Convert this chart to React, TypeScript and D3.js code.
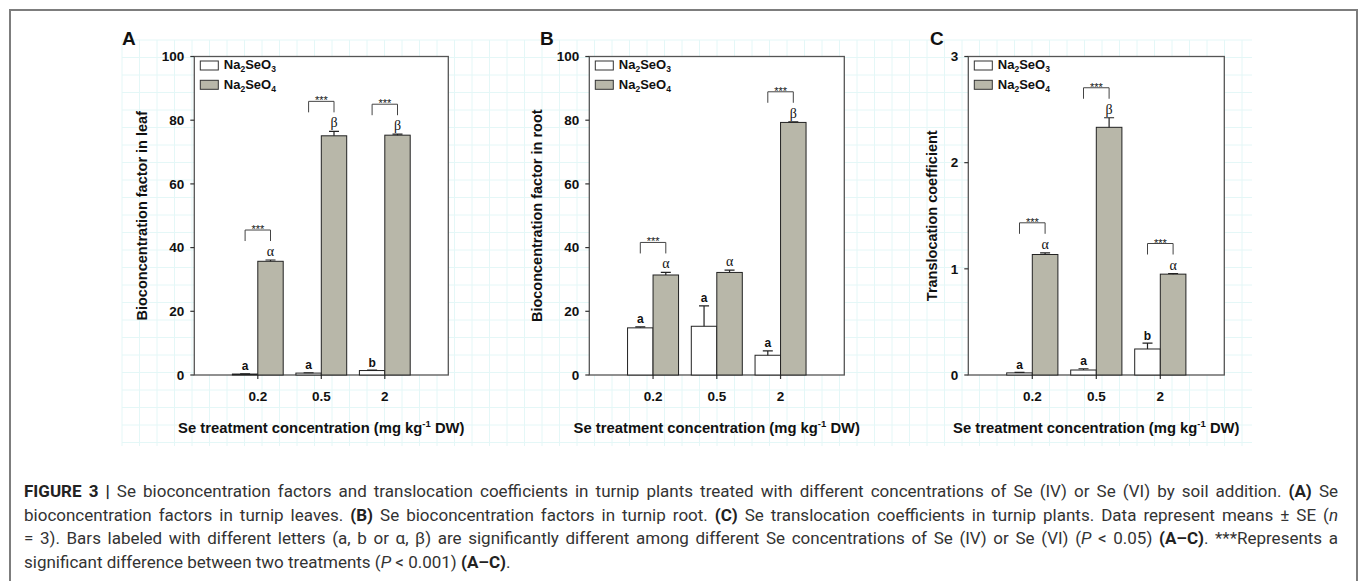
import * as d3 from 'd3';
import { useEffect, useRef } from 'react';

// x categories (Se treatment, mg/kg)
const categories = ['0.2', '0.5', '2'];

// A: bioconcentration factor in leaf
const leafSelenite = [0.3, 0.6, 1.4];
const leafSeleniteErr = [0.1, 0.1, 0.1];
const leafSelenate = [35.7, 75.1, 75.3];
const leafSelenateErr = [0.4, 1.4, 0.3];
const leafLettersIV = ['a', 'a', 'b'];
const leafLettersVI = ['α', 'β', 'β'];
const leafSig = [true, true, true];

// B: bioconcentration factor in root
const rootSelenite = [14.8, 15.3, 6.2];
const rootSeleniteErr = [0.3, 6.4, 1.4];
const rootSelenate = [31.4, 32.2, 79.3];
const rootSelenateErr = [0.8, 0.7, 0.2];
const rootLettersIV = ['a', 'a', 'a'];
const rootLettersVI = ['α', 'α', 'β'];
const rootSig = [true, false, true];

// C: translocation coefficient
const tcSelenite = [0.02, 0.047, 0.245];
const tcSeleniteErr = [0.005, 0.012, 0.055];
const tcSelenate = [1.135, 2.333, 0.95];
const tcSelenateErr = [0.016, 0.09, 0.006];
const tcLettersIV = ['a', 'a', 'b'];
const tcLettersVI = ['α', 'β', 'α'];
const tcSig = [true, true, true];

const bcfTicks = [0, 20, 40, 60, 80, 100];
const tcTicks = [0, 1, 2, 3];

const W = 1359;
const H = 581;
const TOP = 56.5;
const BOTTOM = 375;
const FONT = 'Arial, "Liberation Sans", sans-serif';
const GRAY = '#b8b7a9';

const panels = [
    { id: 'A', yLabel: 'Bioconcentration factor in leaf', ticks: bcfTicks, iv: leafSelenite, ivErr: leafSeleniteErr, vi: leafSelenate, viErr: leafSelenateErr, lIV: leafLettersIV, lVI: leafLettersVI, sig: leafSig, left: 194.3, right: 448.3, letterX: 122, titleX: 141.5 },
    { id: 'B', yLabel: 'Bioconcentration factor in root', ticks: bcfTicks, iv: rootSelenite, ivErr: rootSeleniteErr, vi: rootSelenate, viErr: rootSelenateErr, lIV: rootLettersIV, lVI: rootLettersVI, sig: rootSig, left: 589.3, right: 844.3, letterX: 540, titleX: 536.5 },
    { id: 'C', yLabel: 'Translocation coefficient', ticks: tcTicks, iv: tcSelenite, ivErr: tcSeleniteErr, vi: tcSelenate, viErr: tcSelenateErr, lIV: tcLettersIV, lVI: tcLettersVI, sig: tcSig, left: 968.3, right: 1224.3, letterX: 930, titleX: 932 },
];

// caption pieces: [text, style]
const captionLines: [string, string][][] = [
    [['FIGURE 3 | ', 'b'], ['Se bioconcentration factors and translocation coefficients in turnip plants treated with different concentrations of Se (IV) or Se (VI) by soil addition. ', ''], ['(A)', 'b'], [' Se', '']],
    [['bioconcentration factors in turnip leaves. ', ''], ['(B)', 'b'], [' Se bioconcentration factors in turnip root. ', ''], ['(C)', 'b'], [' Se translocation coefficients in turnip plants. Data represent means ± SE (', ''], ['n', 'i']],
    [['= 3). Bars labeled with different letters (a, b or α, β) are significantly different among different Se concentrations of Se (IV) or Se (VI) (', ''], ['P', 'i'], [' < 0.05) ', ''], ['(A–C)', 'b'], ['. ***Represents a', '']],
    [['significant difference between two treatments (', ''], ['P', 'i'], [' < 0.001) ', ''], ['(A–C)', 'b'], ['.', '']],
];

const App = () => {
    const svgRef = useRef<SVGSVGElement>(null);
    useEffect(() => {
        const svg = d3.select(svgRef.current);
        svg.selectAll('*').remove();

        // figure frame
        svg.append('path')
            .attr('d', `M10,${H} V10 H1357 V${H}`)
            .attr('fill', 'none')
            .attr('stroke', '#7d7d7d')
            .attr('stroke-width', 2);

        // faint scan grid behind the panels
        const grid = svg.append('g').attr('stroke', '#e4f7f7').attr('stroke-width', 1);
        for (let gx = 122; gx <= 1252; gx += 17.5) {
            grid.append('line').attr('x1', gx).attr('x2', gx).attr('y1', 40).attr('y2', 446);
        }
        for (let gy = 40; gy <= 446; gy += 17.5) {
            grid.append('line').attr('x1', 122).attr('x2', 1252).attr('y1', gy).attr('y2', gy);
        }

        panels.forEach(p => {
            const g = svg.append('g').attr('font-family', FONT).attr('fill', '#111');
            const x = d3.scalePoint<string>().domain(categories).range([p.left, p.right]).padding(1);
            const y = d3.scaleLinear().domain([0, p.ticks[p.ticks.length - 1]]).range([BOTTOM, TOP]);
            const bw = x.step() * 0.4;

            g.append('rect')
                .attr('x', p.left).attr('y', TOP)
                .attr('width', p.right - p.left).attr('height', BOTTOM - TOP)
                .attr('fill', 'white').attr('stroke', '#555').attr('stroke-width', 1.3);

            // y axis
            p.ticks.forEach(t => {
                g.append('line').attr('x1', p.left - 4).attr('x2', p.left)
                    .attr('y1', y(t)).attr('y2', y(t)).attr('stroke', '#333').attr('stroke-width', 1.2);
                g.append('text').attr('x', p.left - 10).attr('y', y(t) + 4.8)
                    .attr('text-anchor', 'end').attr('font-size', 13.5).attr('font-weight', 'bold')
                    .text(t);
            });
            g.append('text')
                .attr('transform', `translate(${p.titleX},${(TOP + BOTTOM) / 2}) rotate(-90)`)
                .attr('text-anchor', 'middle').attr('dy', '0.36em')
                .attr('font-size', 14.5).attr('font-weight', 'bold')
                .text(p.yLabel);
            g.append('text').attr('x', p.letterX).attr('y', 45)
                .attr('font-size', 19).attr('font-weight', 'bold').text(p.id);

            // x axis
            categories.forEach(c => {
                g.append('line').attr('x1', x(c)).attr('x2', x(c))
                    .attr('y1', BOTTOM).attr('y2', BOTTOM + 4).attr('stroke', '#333').attr('stroke-width', 1.2);
                g.append('text').attr('x', x(c)).attr('y', 401)
                    .attr('text-anchor', 'middle').attr('font-size', 13.5).attr('font-weight', 'bold').text(c);
            });
            const xt = g.append('text').attr('x', (p.left + p.right) / 2).attr('y', 432.5)
                .attr('text-anchor', 'middle').attr('font-size', 14.8).attr('font-weight', 'bold');
            xt.append('tspan').text('Se treatment concentration (mg kg');
            xt.append('tspan').attr('font-size', 9.5).attr('dy', -6).text('-1');
            xt.append('tspan').attr('dy', 6).text(' DW)');

            // bars, error bars, letters
            const series = [
                { vals: p.iv, errs: p.ivErr, letters: p.lIV, fill: 'white', off: -bw },
                { vals: p.vi, errs: p.viErr, letters: p.lVI, fill: GRAY, off: 0 },
            ];
            series.forEach(s => {
                categories.forEach((c, i) => {
                    const x0 = (x(c) as number) + s.off;
                    const cx = x0 + bw / 2;
                    const top = y(s.vals[i] + s.errs[i]);
                    g.append('rect').attr('x', x0).attr('y', y(s.vals[i]))
                        .attr('width', bw).attr('height', BOTTOM - y(s.vals[i]))
                        .attr('fill', s.fill).attr('stroke', '#222').attr('stroke-width', 1);
                    g.append('path')
                        .attr('d', `M${cx},${y(s.vals[i])} V${top} M${cx - 5},${top} H${cx + 5}`)
                        .attr('stroke', '#222').attr('stroke-width', 1.2);
                    const greek = s.off === 0;
                    g.append('text').attr('x', cx).attr('y', top - (greek ? 4 : 3.5))
                        .attr('text-anchor', 'middle')
                        .attr('font-size', greek ? 14 : 12)
                        .attr('font-weight', greek ? 'normal' : 'bold')
                        .attr('font-family', greek ? '"Liberation Serif", "DejaVu Serif", serif' : FONT)
                        .text(s.letters[i]);
                });
            });

            // significance brackets
            categories.forEach((c, i) => {
                if (!p.sig[i]) return;
                const x1 = (x(c) as number) - bw / 2;
                const x2 = (x(c) as number) + bw / 2;
                const yb = y(p.vi[i] + p.viErr[i]) - 19;
                const yt = yb - 11;
                g.append('path').attr('d', `M${x1},${yb} V${yt} H${x2} V${yb}`)
                    .attr('fill', 'none').attr('stroke', '#444').attr('stroke-width', 1);
                g.append('text').attr('x', (x1 + x2) / 2).attr('y', yt + 3)
                    .attr('text-anchor', 'middle').attr('font-size', 11).text('***');
            });

            // legend
            ['3', '4'].forEach((n, k) => {
                const ly = 61 + k * 19.3;
                g.append('rect').attr('x', p.left + 6).attr('y', ly)
                    .attr('width', 18).attr('height', 9)
                    .attr('fill', k === 0 ? 'white' : GRAY).attr('stroke', '#333').attr('stroke-width', 1);
                const lt = g.append('text').attr('x', p.left + 29.5).attr('y', ly + 8.3)
                    .attr('font-size', 13).attr('font-weight', 'bold');
                lt.append('tspan').text('Na');
                lt.append('tspan').attr('font-size', 8.5).attr('dy', 3).text('2');
                lt.append('tspan').attr('dy', -3).text('SeO');
                lt.append('tspan').attr('font-size', 8.5).attr('dy', 3).text(n);
            });
        });

        // caption: size the font so the first line nearly fills the column, then justify
        const left = 24;
        const target = 1338 - left;
        const cap = svg.append('g')
            .attr('font-family', 'Roboto, "Liberation Sans", sans-serif')
            .attr('font-size', 14).attr('fill', '#333');
        const texts = captionLines.map((line, li) => {
            const t = cap.append('text').attr('x', left).attr('y', 497 + li * 23.5);
            line.forEach(([txt, st]) => {
                const ts = t.append('tspan').text(txt);
                if (st === 'b') ts.attr('font-weight', 'bold').attr('fill', '#222');
                if (st === 'i') ts.attr('font-style', 'italic');
            });
            return t;
        });
        const first = (texts[0].node() as SVGTextElement).getComputedTextLength();
        const size = Math.min(17, 14 * (target - 25) / first);
        cap.attr('font-size', size);
        texts.forEach((t, li) => {
            if (li === texts.length - 1) return;
            const natural = (t.node() as SVGTextElement).getComputedTextLength();
            const spaces = captionLines[li].map(d => d[0]).join('').split(' ').length - 1;
            t.attr('word-spacing', Math.max(0, (target - natural) / spaces));
        });

        return () => {
            svg.selectAll('*').remove();
        };
    }, []);

    return (
        <svg ref={svgRef} width={W} height={H}
            style={{ position: 'absolute', left: 0, top: 0, background: 'white' }} />
    );
};

export default App;
